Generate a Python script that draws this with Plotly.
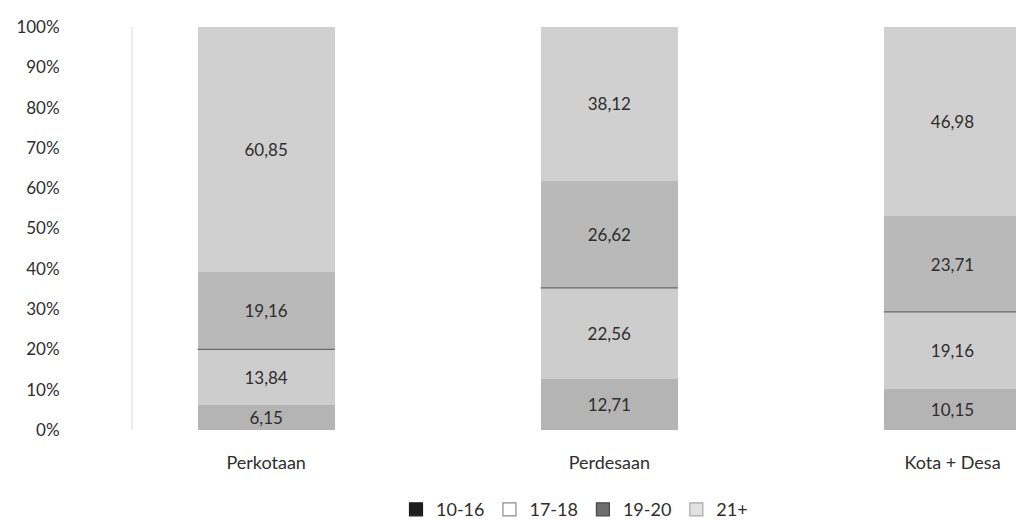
import plotly.graph_objects as go

# Share of population by age group at first marriage, by area type (percent)
categories = ["Perkotaan", "Perdesaan", "Kota + Desa"]
age_groups = ["10-16", "17-18", "19-20", "21+"]
share_10_16 = [6.15, 12.71, 10.15]
share_17_18 = [13.84, 22.56, 19.16]
share_19_20 = [19.16, 26.62, 23.71]
share_21_plus = [60.85, 38.12, 46.98]
y_ticks = [0, 10, 20, 30, 40, 50, 60, 70, 80, 90, 100]

series = [share_10_16, share_17_18, share_19_20, share_21_plus]
bar_colors = ["#b4b4b4", "#cdcdcd", "#b9b9b9", "#d0d0d0"]
legend_colors = ["#1e1e1e", "#ffffff", "#6e6e6e", "#e2e2e2"]
legend_lines = ["#1e1e1e", "#8a8a8a", "#4a4a4a", "#a8a8a8"]
font_family = "Lato, 'Open Sans', sans-serif"
text_color = "#2e2e2e"
bar_width = 0.40


def fmt(v):
    return f"{v:.2f}".replace(".", ",")


fig = go.Figure()
xs = list(range(len(categories)))

for name, values, color in zip(age_groups, series, bar_colors):
    fig.add_trace(go.Bar(
        x=xs, y=values, name=name,
        width=bar_width,
        marker=dict(color=color, line=dict(width=0)),
        text=[fmt(v) for v in values],
        textposition="inside",
        insidetextanchor="middle",
        textangle=0,
        constraintext="none",
        textfont=dict(family=font_family, size=17, color=text_color),
        showlegend=False,
        hoverinfo="skip",
    ))

# Legend keys
for name, fill, edge in zip(age_groups, legend_colors, legend_lines):
    fig.add_trace(go.Scatter(
        x=[None], y=[None], mode="markers", name=name,
        marker=dict(symbol="square", size=13, color=fill,
                    line=dict(color=edge, width=1.2)),
    ))

# Dark dividing line at the top of the 17-18 segment
for i in xs:
    top = share_10_16[i] + share_17_18[i]
    fig.add_shape(type="line", xref="x", yref="y",
                  x0=i - bar_width / 2, x1=i + bar_width / 2, y0=top, y1=top,
                  line=dict(color="#6a6a6a", width=1.3))

fig.update_layout(
    width=1016, height=520,
    margin=dict(l=133, r=0, t=27, b=90),
    paper_bgcolor="white", plot_bgcolor="white",
    barmode="stack",
    font=dict(family=font_family, color=text_color),
    showlegend=True,
    legend=dict(
        orientation="h",
        traceorder="normal",
        xref="paper", yref="container",
        x=0.5, xanchor="center",
        y=0.02, yanchor="middle",
        font=dict(size=18, color=text_color, family=font_family),
        itemwidth=30,
        tracegroupgap=0,
    ),
    xaxis=dict(
        range=[-0.388, 2.185],
        tickmode="array", tickvals=xs, ticktext=categories,
        tickfont=dict(size=18, color=text_color),
        showgrid=False, zeroline=False, showline=False,
        ticks="", ticklabelstandoff=20,
        fixedrange=True,
    ),
    yaxis=dict(
        range=[0, 100],
        tickmode="array", tickvals=y_ticks,
        ticktext=[f"{t}%" for t in y_ticks],
        tickfont=dict(size=17, color=text_color),
        showgrid=False, zeroline=False,
        showline=True, linecolor="#ececec", linewidth=2,
        ticks="", ticklabelstandoff=68,
        fixedrange=True,
    ),
)

fig.write_html("out.html")
